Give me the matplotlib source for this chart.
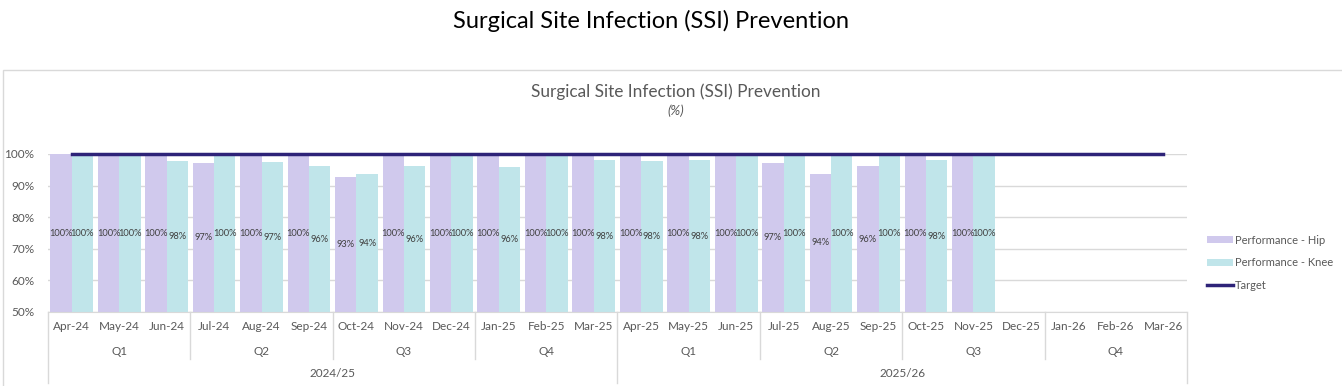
import numpy as np
import matplotlib.pyplot as plt
from matplotlib.patches import Rectangle, Patch
from matplotlib.lines import Line2D

plt.rcParams['font.family'] = ['Lato', 'DejaVu Sans']

months = ['Apr-24', 'May-24', 'Jun-24', 'Jul-24', 'Aug-24', 'Sep-24', 'Oct-24', 'Nov-24', 'Dec-24',
          'Jan-25', 'Feb-25', 'Mar-25', 'Apr-25', 'May-25', 'Jun-25', 'Jul-25', 'Aug-25', 'Sep-25',
          'Oct-25', 'Nov-25', 'Dec-25', 'Jan-26', 'Feb-26', 'Mar-26']
quarters = ['Q1', 'Q2', 'Q3', 'Q4', 'Q1', 'Q2', 'Q3', 'Q4']
years = ['2024/25', '2025/26']

hip = [100, 100, 100, 97.2, 100, 100, 92.6, 100, 100, 100, 100, 100,
       100, 100, 100, 97.2, 93.7, 96.2, 100, 100]
knee = [100, 100, 97.8, 100, 97.4, 96.2, 93.6, 96.2, 100, 95.9, 100, 98.1,
        97.8, 98.1, 100, 100, 100, 100, 98.1, 100]
target = [100] * 24

hip_col = '#D0C9ED'
knee_col = '#C0E5EA'
target_col = '#2E2378'
grey = '#595959'
light = '#D9D9D9'

fig = plt.figure(figsize=(13.42, 3.86), dpi=100)
fig.text(0.485, 0.945, 'Surgical Site Infection (SSI) Prevention', ha='center', va='center',
         fontsize=17, color='black')

# chart frame
fig.patches.append(Rectangle((3 / 1342, -0.01), 1.0, 0.8187 + 0.01, transform=fig.transFigure,
                             fill=False, edgecolor=light, linewidth=1))
fig.text(0.5035, 0.762, 'Surgical Site Infection (SSI) Prevention', ha='center', va='center',
         fontsize=12.4, color=grey)
fig.text(0.5035, 0.712, '(%)', ha='center', va='center', fontsize=9.5, style='italic', color=grey)

ax = fig.add_axes([48 / 1342, 74 / 386, (1187 - 48) / 1342, 158 / 386])
x = np.arange(len(months))
w = 0.45
xh = x[:len(hip)] - w / 2
xk = x[:len(knee)] + w / 2
bh = ax.bar(xh, np.array(hip) - 50, w, bottom=50, color=hip_col, zorder=2)
bk = ax.bar(xk, np.array(knee) - 50, w, bottom=50, color=knee_col, zorder=2)
ax.bar_label(bh, labels=[f'{v:.0f}%' for v in hip], label_type='center', fontsize=6.7, color='#404040')
ax.bar_label(bk, labels=[f'{v:.0f}%' for v in knee], label_type='center', fontsize=6.7, color='#404040')
ax.plot(x, target, color=target_col, linewidth=2.5, zorder=3, clip_on=False)

ax.set_xlim(-0.5, len(months) - 0.5)
ax.set_ylim(50, 100)
ax.set_yticks(np.arange(50, 101, 10))
ax.set_yticklabels([f'{v}%' for v in range(50, 101, 10)])
ax.tick_params(axis='y', length=0, labelsize=8.5, labelcolor=grey, pad=10)
ax.set_xticks([])
ax.grid(axis='y', color=light, linewidth=1, zorder=0)
for s in ['top', 'right', 'left']:
    ax.spines[s].set_visible(False)
ax.spines['bottom'].set_color(light)

# multi-level category axis
tr = ax.get_xaxis_transform()
for i, m in enumerate(months):
    ax.text(i, -0.089, m, transform=tr, ha='center', va='center', fontsize=8.5, color=grey)
for q, name in enumerate(quarters):
    ax.text(q * 3 + 1, -0.247, name, transform=tr, ha='center', va='center', fontsize=8.5, color=grey)
for yi, name in enumerate(years):
    ax.text(yi * 12 + 5.5, -0.392, name, transform=tr, ha='center', va='center', fontsize=8.5, color=grey)
for b in range(0, len(months) + 1, 3):
    bottom = -0.449 if b % 12 == 0 else -0.297
    ax.plot([b - 0.5, b - 0.5], [0, bottom], transform=tr, color=light, linewidth=1, clip_on=False)

handles = [Patch(facecolor=hip_col, label='Performance - Hip'),
           Patch(facecolor=knee_col, label='Performance - Knee'),
           Line2D([0], [0], color=target_col, linewidth=2.5, label='Target')]
leg = fig.legend(handles=handles, loc='center left', bbox_to_anchor=(1207 / 1342, (386 - 263) / 386),
                 frameon=False, fontsize=8, handlelength=2.3, handleheight=0.6, handletextpad=0.2,
                 labelspacing=1.05, borderpad=0, borderaxespad=0)
for t in leg.get_texts():
    t.set_color(grey)

fig.savefig('out.png', dpi=100)
